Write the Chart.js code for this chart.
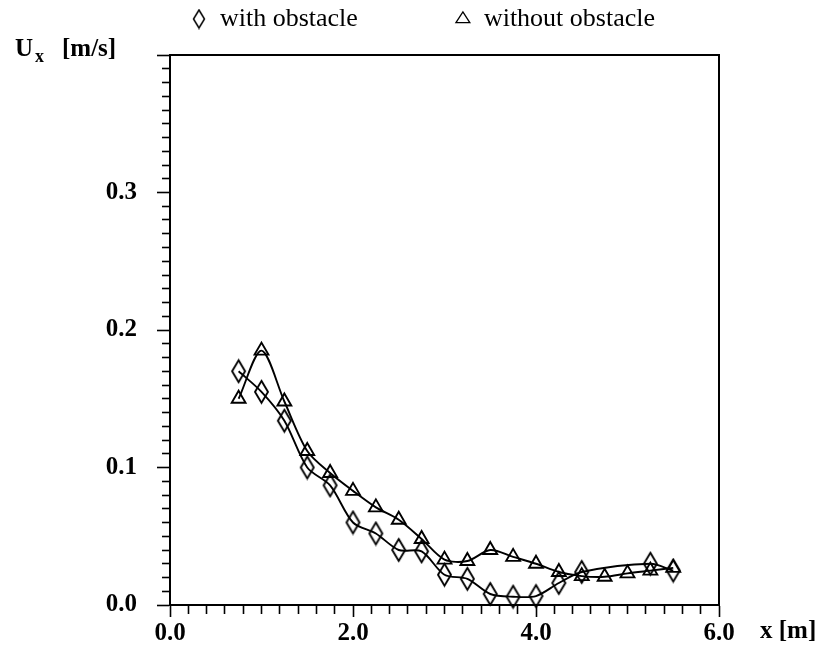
<!DOCTYPE html>
<html>
<head>
<meta charset="utf-8">
<script src="https://cdn.jsdelivr.net/npm/chart.js@4.4.1/dist/chart.umd.min.js"></script>
<style>
  html, body { margin: 0; padding: 0; background: #fff; }
  #wrap { width: 826px; height: 650px; }
</style>
</head>
<body>
<div id="wrap"><canvas id="chart" width="826" height="650"></canvas></div>
<script>
// x positions of the measurements [m]
const xWith = [0.75, 1.0, 1.25, 1.5, 1.75, 2.0, 2.25, 2.5, 2.75, 3.0, 3.25, 3.5, 3.75, 4.0, 4.25, 4.5, 5.25, 5.5];
const uWith = [0.170, 0.155, 0.134, 0.100, 0.087, 0.060, 0.052, 0.040, 0.039, 0.022, 0.019, 0.008, 0.006, 0.0065, 0.016, 0.024, 0.030, 0.025];

const xWithout = [0.75, 1.0, 1.25, 1.5, 1.75, 2.0, 2.25, 2.5, 2.75, 3.0, 3.25, 3.5, 3.75, 4.0, 4.25, 4.5, 4.75, 5.0, 5.25, 5.5];
const uWithout = [0.150, 0.185, 0.148, 0.112, 0.096, 0.083, 0.071, 0.062, 0.048, 0.033, 0.032, 0.040, 0.035, 0.030, 0.024, 0.021, 0.0205, 0.023, 0.025, 0.027];

const xTicks = ["0.0", "2.0", "4.0", "6.0"];
const yTicks = ["0.0", "0.1", "0.2", "0.3"];
const seriesNames = ["with obstacle", "without obstacle"];

const serif = "'Liberation Serif', 'DejaVu Serif', serif";
const tickFont = { family: serif, size: 25, weight: "bold" };

// tall open diamond marker, like the plotter symbol
function makeDiamond(w, h, lw) {
    const c = document.createElement("canvas");
    c.width = Math.ceil(w + lw * 2);
    c.height = Math.ceil(h + lw * 2);
    const g = c.getContext("2d");
    const cx = c.width / 2, cy = c.height / 2;
    g.strokeStyle = "#000";
    g.lineWidth = lw;
    g.beginPath();
    g.moveTo(cx, cy - h / 2);
    g.lineTo(cx + w / 2, cy);
    g.lineTo(cx, cy + h / 2);
    g.lineTo(cx - w / 2, cy);
    g.closePath();
    g.stroke();
    return c;
}
const bigDiamond = makeDiamond(13, 22, 1.9);
const smallDiamond = makeDiamond(11, 18, 1.5);

function toPoints(xs, ys) {
    return xs.map((x, i) => ({ x: x, y: ys[i] }));
}

const isMultiple = (v, step) => Math.abs(v / step - Math.round(v / step)) < 1e-6;

// top and right edges of the box, plus axis titles
const framePlugin = {
    id: "frame",
    afterDraw(chart) {
        const { ctx, chartArea: a } = chart;
        ctx.save();
        ctx.strokeStyle = "#000";
        ctx.lineWidth = 2;
        ctx.beginPath();
        ctx.moveTo(a.left, a.top);
        ctx.lineTo(a.right, a.top);
        ctx.lineTo(a.right, a.bottom);
        ctx.stroke();

        ctx.fillStyle = "#000";
        ctx.textBaseline = "alphabetic";
        ctx.font = "bold 25px " + serif;
        ctx.fillText("x [m]", a.right + 41, a.bottom + 33);

        ctx.fillText("U", 15, a.top + 1);
        ctx.font = "bold 18px " + serif;
        ctx.fillText("x", 35, a.top + 7);
        ctx.font = "bold 25px " + serif;
        ctx.fillText("[m/s]", 62, a.top + 1);
        ctx.restore();
    }
};

new Chart(document.getElementById("chart"), {
    type: "line",
    data: {
        datasets: [
            {
                label: seriesNames[0],
                data: toPoints(xWith, uWith),
                borderColor: "#000",
                borderWidth: 1.9,
                tension: 0.3,
                fill: false,
                pointStyle: bigDiamond,
                clip: false
            },
            {
                label: seriesNames[1],
                data: toPoints(xWithout, uWithout),
                borderColor: "#000",
                borderWidth: 1.9,
                tension: 0.3,
                fill: false,
                pointStyle: "triangle",
                pointRadius: 8,
                pointBorderWidth: 1.9,
                pointBorderColor: "#000",
                pointBackgroundColor: "rgba(0,0,0,0)",
                clip: false
            }
        ]
    },
    options: {
        responsive: false,
        animation: false,
        layout: { padding: { left: 20, right: 0, top: 0, bottom: 0 } },
        plugins: {
            tooltip: { enabled: false },
            legend: {
                display: true,
                position: "top",
                labels: {
                    usePointStyle: true,
                    boxHeight: 10,
                    pointStyleWidth: 16,
                    padding: 6,
                    color: "#000",
                    font: { family: serif, size: 26 },
                    generateLabels: () => [
                        { text: seriesNames[0] + "\u2003\u2003\u2003\u2002", pointStyle: smallDiamond, fillStyle: "rgba(0,0,0,0)", strokeStyle: "#000", lineWidth: 1.5, hidden: false, datasetIndex: 0 },
                        { text: seriesNames[1], pointStyle: "triangle", fillStyle: "rgba(0,0,0,0)", strokeStyle: "#000", lineWidth: 1.3, hidden: false, datasetIndex: 1 }
                    ]
                }
            }
        },
        scales: {
            x: {
                type: "linear",
                min: 0,
                max: 6,
                afterFit: (s) => { s.height = 45; },
                border: { display: true, color: "#000", width: 2 },
                grid: {
                    drawOnChartArea: false,
                    drawTicks: true,
                    tickLength: 12,
                    tickColor: "#000",
                    tickWidth: 1.6,
                    tickBorderDash: (c) => isMultiple(c.tick.value, 2) ? [] : [8, 4],
                    tickBorderDashOffset: 0
                },
                ticks: {
                    stepSize: 0.2,
                    autoSkip: false,
                    maxRotation: 0,
                    maxTicksLimit: 100,
                    padding: 2,
                    color: "#000",
                    font: tickFont,
                    callback: (v) => isMultiple(v, 2) ? xTicks[Math.round(v / 2)] : ""
                }
            },
            // empty top axis: gap between the legend and the box
            xTop: {
                type: "linear",
                position: "top",
                display: true,
                afterFit: (s) => { s.height = 13; },
                border: { display: false },
                grid: { display: false, drawTicks: false },
                ticks: { display: false }
            },
            y: {
                type: "linear",
                min: 0,
                max: 0.4,
                afterFit: (s) => { s.width = 150; },
                border: { display: true, color: "#000", width: 2 },
                grid: {
                    drawOnChartArea: false,
                    drawTicks: true,
                    tickLength: 13,
                    tickColor: "#000",
                    tickWidth: 1.6,
                    tickBorderDash: (c) => isMultiple(c.tick.value, 0.1) ? [] : [8, 5],
                    tickBorderDashOffset: (c) => isMultiple(c.tick.value, 0.1) ? 0 : 8
                },
                ticks: {
                    stepSize: 0.01,
                    autoSkip: false,
                    maxTicksLimit: 100,
                    padding: 20,
                    color: "#000",
                    font: tickFont,
                    callback: (v) => {
                        const i = Math.round(v * 10);
                        return isMultiple(v, 0.1) && i < yTicks.length ? yTicks[i] : "";
                    }
                }
            },
            // empty right-hand axis: only reserves the margin right of the box
            yRight: {
                type: "linear",
                position: "right",
                display: true,
                afterFit: (s) => { s.width = 107; },
                border: { display: false },
                grid: { display: false, drawTicks: false },
                ticks: { display: false }
            }
        }
    },
    plugins: [framePlugin]
});
</script>
</body>
</html>
